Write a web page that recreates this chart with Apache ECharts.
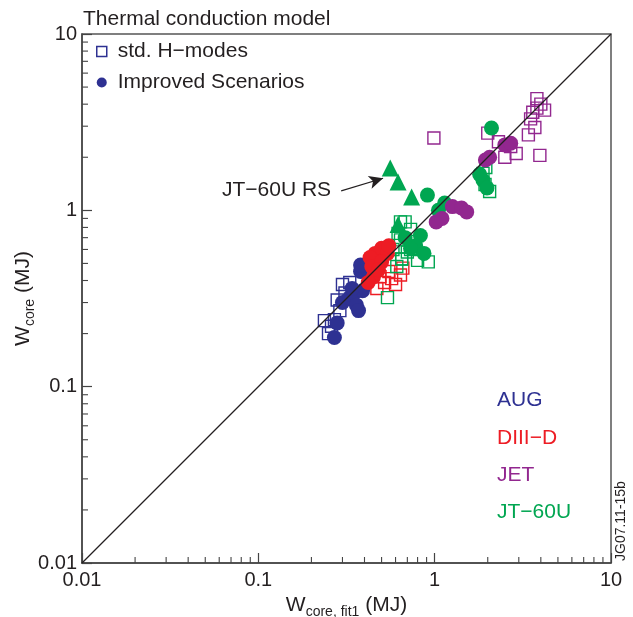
<!DOCTYPE html>
<html>
<head>
<meta charset="utf-8">
<script src="https://cdn.jsdelivr.net/npm/echarts@6/dist/echarts.min.js"></script>
<style>
html,body{margin:0;padding:0;background:#fff;}
#chart{width:633px;height:617px;}
</style>
</head>
<body>
<div id="chart"></div>
<script>
// ---- data (x = W_core,fit1 [MJ], y = W_core [MJ]) ----
var augSquares = [[0.237,0.237],[0.25,0.20],[0.27,0.24],[0.28,0.31],[0.30,0.38],[0.33,0.39],[0.31,0.34],[0.29,0.27],[0.26,0.22]];
var augCircles = [[0.27,0.19],[0.28,0.23],[0.30,0.30],[0.33,0.32],[0.35,0.34],[0.36,0.29],[0.37,0.27],[0.39,0.35],[0.38,0.45],[0.38,0.49],[0.34,0.36]];
var diiidSquares = [[0.47,0.36],[0.52,0.39],[0.57,0.41],[0.64,0.43],[0.49,0.42],[0.60,0.38],[0.66,0.47],[0.55,0.45]];
var diiidCircles = [[0.46,0.57],[0.50,0.61],[0.54,0.57],[0.43,0.54],[0.44,0.48],[0.50,0.51],[0.45,0.42],[0.42,0.39],[0.55,0.63],[0.48,0.46]];
var jetSquares = [[3.8,4.3],[3.8,3.8],[3.5,3.3],[3.7,2.95],[4.2,3.7],[4.0,4.0],[2.0,2.74],[2.5,2.0],[2.9,2.1],[3.95,2.05],[3.4,2.68],[2.3,2.45],[0.99,2.57],[3.6,3.6],[2.7,2.3]];
var jetCircles = [[1.02,0.86],[1.10,0.90],[1.26,1.05],[1.42,1.03],[1.52,0.98],[1.94,1.93],[2.05,2.0],[2.5,2.35],[2.7,2.4]];
var jt60Squares = [[0.54,0.32],[0.61,0.48],[0.65,0.53],[0.80,0.52],[0.73,0.60],[0.64,0.68],[0.64,0.86],[0.68,0.86],[0.73,0.78],[0.58,0.60],[0.92,0.51],[0.65,0.53],[1.88,1.62],[2.05,1.28],[1.93,1.40],[1.95,1.75],[0.62,0.74],[0.70,0.58]];
var jt60Circles = [[0.91,1.22],[1.14,1.10],[1.05,1.00],[0.83,0.72],[0.78,0.63],[0.87,0.57],[0.73,0.61],[0.68,0.70],[2.1,2.93],[1.88,1.48],[1.98,1.34],[1.8,1.6]];
var jt60Triangles = [[0.56,1.74],[0.62,1.45],[0.74,1.19],[0.62,0.83]];
var identityLine = [[0.01,0.01],[10,10]];
var axisMin = 0.01, axisMax = 10;
var rsArrow = [[0.295,1.29],[0.51,1.52]];

var C = {aug:'#2E3192', diiid:'#ED1C24', jet:'#92278F', jt:'#00A651'};

// minor tick positions (2..9 in each decade)
var minorTicks = [];
[0.01,0.1,1].forEach(function(d){
  for (var k=2;k<=9;k++){ var v=+(d*k).toPrecision(3); minorTicks.push([v,axisMin,0]); minorTicks.push([axisMin,v,1]); }
});

function sq(name,data,color){
  return {type:'scatter',name:name,data:data,symbol:'rect',symbolSize:12,
    itemStyle:{color:'rgba(255,255,255,0)',borderColor:color,borderWidth:1.4,opacity:1},z:3};
}
function ci(name,data,color){
  return {type:'scatter',name:name,data:data,symbol:'circle',symbolSize:15,
    itemStyle:{color:color,opacity:1},z:4};
}

var chart = echarts.init(document.getElementById('chart'),null,{renderer:'canvas'});
var font = 'Liberation Sans, Arial, Helvetica, sans-serif';
var richName = {a:{fontSize:21,color:'#231F20',fontFamily:font,verticalAlign:'bottom',lineHeight:24},b:{fontSize:14,color:'#231F20',fontFamily:font,verticalAlign:'bottom',lineHeight:24,padding:[0,0,-3,0]}};
chart.setOption({
  animation:false,
  backgroundColor:'#fff',
  textStyle:{fontFamily:font},
  title:{text:'Thermal conduction model',left:78,top:4,textStyle:{fontSize:21,fontWeight:'normal',color:'#231F20',fontFamily:font}},
  grid:{left:82,top:34,width:529,height:529,outerBoundsMode:'none',containLabel:false,show:true,borderColor:'#555',borderWidth:1.5,backgroundColor:'transparent'},
  legend:{
    orient:'vertical',left:91,top:36,itemGap:10,itemWidth:10,itemHeight:10,
    textStyle:{fontSize:21,color:'#231F20',fontFamily:font,padding:[0,0,0,6]},
    data:[
      {name:'std. H\u2212modes',icon:'rect',itemStyle:{color:'#fff',borderColor:C.aug,borderWidth:1.5,opacity:1}},
      {name:'Improved Scenarios',icon:'circle',itemStyle:{color:C.aug,opacity:1}}
    ],
    selectedMode:false
  },
  xAxis:{
    type:'log',logBase:10,min:axisMin,max:axisMax,
    axisLine:{show:true,lineStyle:{color:'#444',width:1.5}},
    axisTick:{show:true,inside:true,length:10,lineStyle:{color:'#444',width:1.2}},
    minorTick:{show:false},
    splitLine:{show:false},
    axisLabel:{fontSize:20,color:'#231F20',margin:7,fontFamily:font,formatter:function(v){return String(+v.toPrecision(3));}},
    name:'{a|W}{b|core, fit1}{a| (MJ)}',nameLocation:'middle',nameGap:29,nameMoveOverlap:false,
    nameTextStyle:{rich:richName}
  },
  yAxis:{
    type:'log',logBase:10,min:axisMin,max:axisMax,
    axisLine:{show:true,lineStyle:{color:'#444',width:1.5}},
    axisTick:{show:true,inside:true,length:10,lineStyle:{color:'#444',width:1.2}},
    minorTick:{show:false},
    splitLine:{show:false},
    axisLabel:{fontSize:20,color:'#231F20',margin:5,fontFamily:font,formatter:function(v){return String(+v.toPrecision(3));}},
    name:'{a|W}{b|core}{a| (MJ)}',nameLocation:'middle',nameGap:48,nameRotate:90,nameMoveOverlap:false,
    nameTextStyle:{rich:richName}
  },
  series:[
    {type:'custom',name:'minorTicks',data:minorTicks,clip:false,silent:true,z:2,
      renderItem:function(params,api){
        var p = api.coord([api.value(0),api.value(1)]);
        var isY = api.value(2)===1;
        var shape = isY ? {x1:p[0],y1:p[1],x2:p[0]+6,y2:p[1]} : {x1:p[0],y1:p[1],x2:p[0],y2:p[1]-6};
        return {type:'line',shape:shape,style:{stroke:'#444',lineWidth:1.1}};
      }},
    {type:'line',name:'identity',data:identityLine,symbol:'none',lineStyle:{color:'#231F20',width:1.3},z:5,silent:true,
      markLine:{silent:true,symbol:['none','arrow'],symbolSize:[10,14],lineStyle:{color:'#231F20',width:1.2,type:'solid'},label:{show:false},
        data:[[{coord:rsArrow[0]},{coord:rsArrow[1]}]]}},
    sq('AUG sq',augSquares,C.aug),
    sq('DIII-D sq',diiidSquares,C.diiid),
    sq('JT-60U sq',jt60Squares,C.jt),
    sq('JET sq',jetSquares,C.jet),
    ci('AUG ci',augCircles,C.aug),
    ci('DIII-D ci',diiidCircles,C.diiid),
    ci('JT-60U ci',jt60Circles,C.jt),
    ci('JET ci',jetCircles,C.jet),
    {type:'scatter',name:'JT-60U RS',data:jt60Triangles,symbol:'triangle',symbolSize:17,itemStyle:{color:C.jt,opacity:1},z:4},
    {type:'scatter',name:'std. H\u2212modes',data:[],itemStyle:{opacity:1}},
    {type:'scatter',name:'Improved Scenarios',data:[],itemStyle:{opacity:1}}
  ],
  graphic:[
    {type:'text',left:222,top:180,style:{text:'JT\u221260U RS',fontSize:21,fill:'#231F20',fontFamily:font}},
    {type:'text',left:497,top:390,style:{text:'AUG',fontSize:21,fill:C.aug,fontFamily:font}},
    {type:'text',left:497,top:428,style:{text:'DIII\u2212D',fontSize:21,fill:C.diiid,fontFamily:font}},
    {type:'text',left:497,top:465,style:{text:'JET',fontSize:21,fill:C.jet,fontFamily:font}},
    {type:'text',left:497,top:502,style:{text:'JT\u221260U',fontSize:21,fill:C.jt,fontFamily:font}},
    {type:'text',x:614,y:561,rotation:Math.PI/2,style:{text:'JG07.11-15b',fontSize:14,fill:'#231F20',fontFamily:font}}
  ]
});
</script>
</body>
</html>
